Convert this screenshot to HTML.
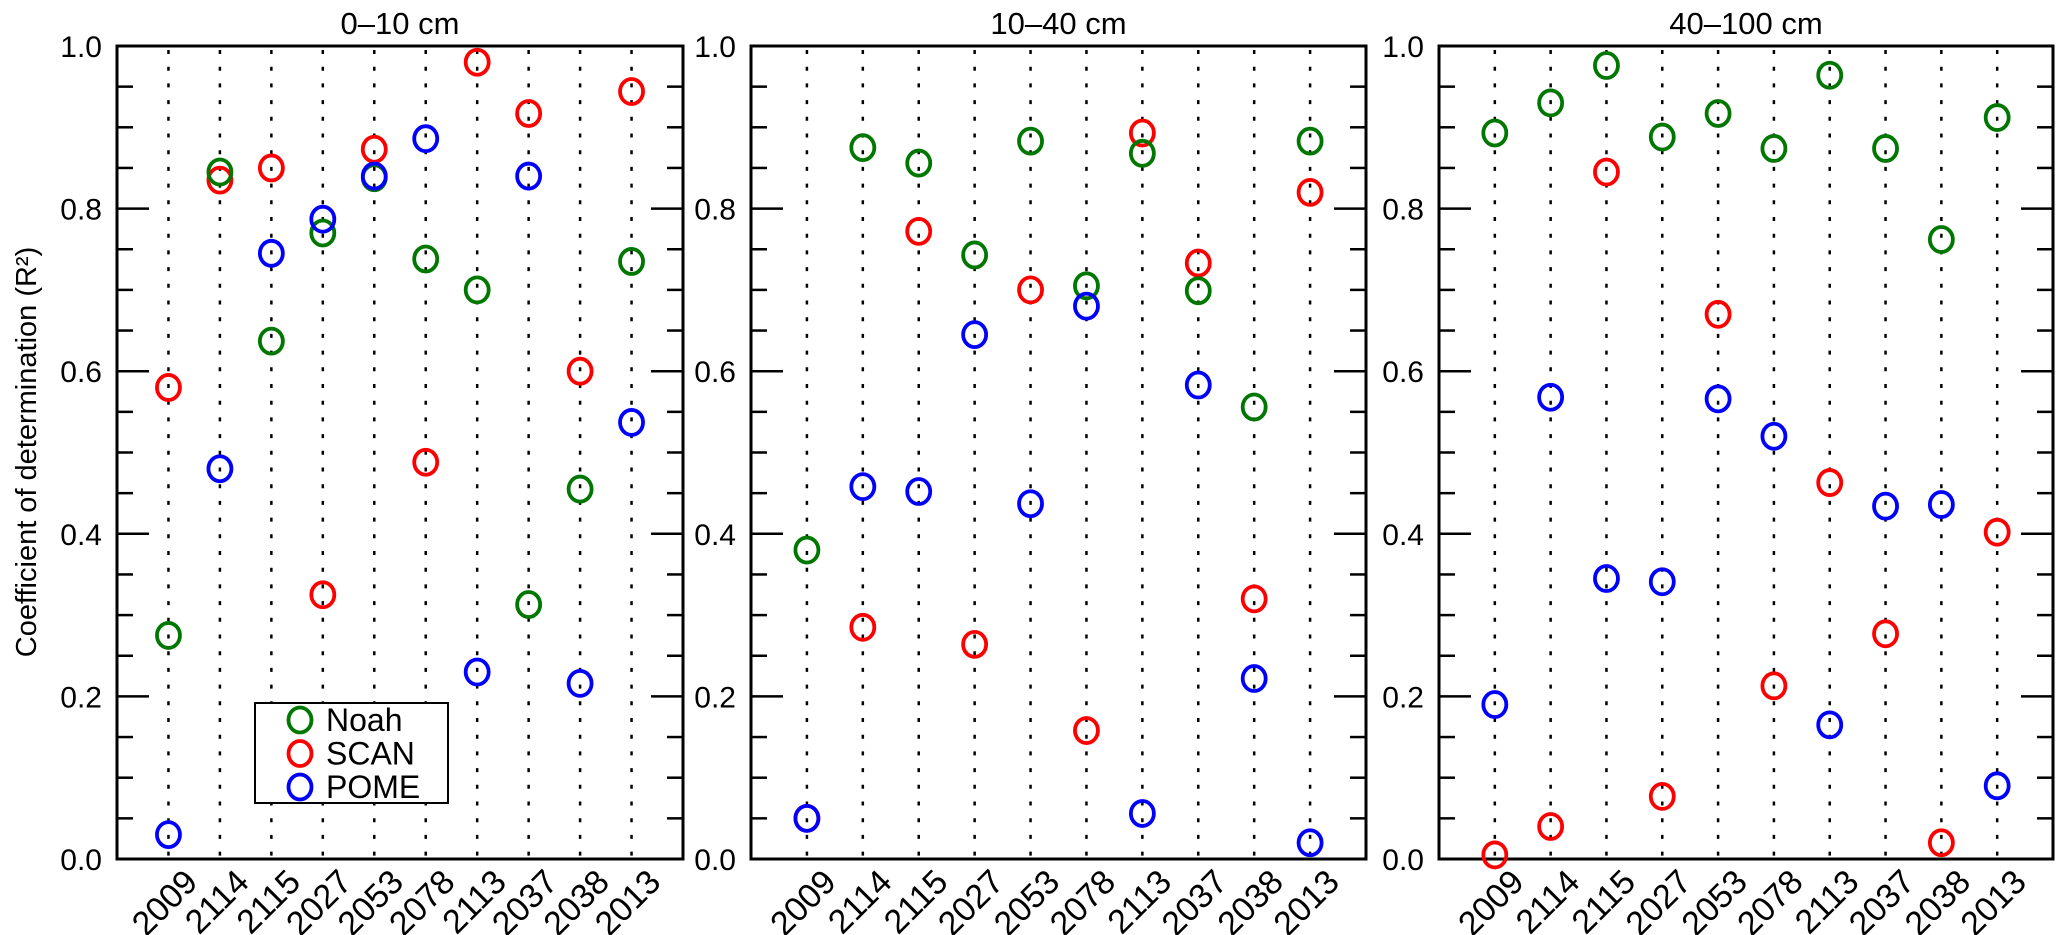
<!DOCTYPE html>
<html><head><meta charset="utf-8"><style>
html,body{margin:0;padding:0;background:#fff;}
svg{display:block;font-family:"Liberation Sans",Arial,sans-serif;}
</style></head><body>
<svg id="chart" width="2067" height="935" viewBox="0 0 2067 935" xmlns="http://www.w3.org/2000/svg">
<rect width="2067" height="935" fill="#fff"/>
<text x="0" y="0" transform="translate(36,452) rotate(-90)" text-anchor="middle" font-size="29">Coefficient of determination (R²)</text>
</svg>
<script>
const categories = ["2009","2114","2115","2027","2053","2078","2113","2037","2038","2013"];
const panelTitles = ["0\u201310 cm","10\u201340 cm","40\u2013100 cm"];
const yTickLabels = ["0.0","0.2","0.4","0.6","0.8","1.0"];
const seriesNames = ["Noah","SCAN","POME"];
const noah0 = [0.275,0.845,0.637,0.77,0.838,0.738,0.70,0.313,0.455,0.735];
const scan0 = [0.58,0.835,0.85,0.325,0.873,0.488,0.98,0.917,0.60,0.944];
const pome0 = [0.03,0.48,0.745,0.787,0.84,0.886,0.23,0.84,0.216,0.537];
const noah1 = [0.38,0.875,0.856,0.743,0.883,0.705,0.868,0.699,0.556,0.883];
const scan1 = [0.05,0.285,0.772,0.264,0.70,0.158,0.893,0.733,0.32,0.82];
const pome1 = [0.05,0.458,0.452,0.645,0.437,0.68,0.056,0.583,0.222,0.02];
const noah2 = [0.893,0.93,0.976,0.888,0.917,0.874,0.964,0.874,0.762,0.912];
const scan2 = [0.005,0.04,0.845,0.077,0.67,0.213,0.463,0.277,0.02,0.402];
const pome2 = [0.19,0.568,0.345,0.341,0.566,0.52,0.165,0.434,0.436,0.09];

const svg = document.getElementById('chart');
const NS = 'http://www.w3.org/2000/svg';
function mk(tag, attrs, parent){const e=document.createElementNS(NS,tag);for(const k in attrs)e.setAttribute(k,attrs[k]);(parent||svg).appendChild(e);return e;}
const panels = [{l:117,r:683},{l:751,r:1366},{l:1439,r:2053}];
const TOP=46, BOT=859;
const data = [[noah0,scan0,pome0],[noah1,scan1,pome1],[noah2,scan2,pome2]];
const colors = {Noah:"#007700",SCAN:"#ff0000",POME:"#0000ff"};
function yScale(v){return BOT-(BOT-TOP)*v;}

panels.forEach((p,pi)=>{
  const g = mk('g',{});
  
  
  const step=(p.r-p.l)/(categories.length+1);
  const xScale=i=>p.l+step*(i+1);
  const t = mk('text',{x:(p.l+p.r)/2,y:34,'text-anchor':'middle','font-size':31},g);
  t.textContent = panelTitles[pi];
  
  
  categories.forEach((c,i)=>{
    const x=xScale(i);
    const ln = mk('line',{x1:x,y1:TOP+4,x2:x,y2:BOT,stroke:'#000','stroke-width':2.5,'stroke-dasharray':'4 12.7'},g);
    
    
    const lb = mk('text',{x:0,y:0,'text-anchor':'end','font-size':34,transform:`translate(${x+14},${BOT+8}) rotate(-45)`,'dominant-baseline':'hanging'},g);
    lb.textContent=c;
    
    
  });
  for(let k=0;k<=20;k++){
    const v=k/20, y=yScale(v), L=(k%4===0)?32:16;
    mk('line',{x1:p.l,y1:y,x2:p.l+L,y2:y,stroke:'#000','stroke-width':2.5},g);
    mk('line',{x1:p.r,y1:y,x2:p.r-L,y2:y,stroke:'#000','stroke-width':2.5},g);
  }
  yTickLabels.forEach((s,k)=>{
    const tl = mk('text',{x:p.l-15,y:yScale(k*0.2)+11,'text-anchor':'end','font-size':30},g);
    tl.textContent=s;
    
    
  });
  const fr = mk('rect',{x:p.l,y:TOP,width:p.r-p.l,height:BOT-TOP,fill:'none',stroke:'#000','stroke-width':3},g);
  
  
  [1,0,2].forEach(si=>{
    const name=seriesNames[si];
    data[pi][si].forEach((v,i)=>{
      const c = mk('ellipse',{cx:xScale(i),cy:yScale(v),rx:11.5,ry:12.5,fill:'none',stroke:colors[name],'stroke-width':3.8},g);
      
      
    });
  });
});
// legend
const lg = mk('g',{});


mk('rect',{x:255,y:703,width:193,height:100,fill:'#fff',stroke:'#000','stroke-width':2},lg);
seriesNames.forEach((n,i)=>{
  const y=720+i*33.5;
  const m = mk('ellipse',{cx:300,cy:y,rx:11.5,ry:12.5,fill:'none',stroke:colors[n],'stroke-width':3.8},lg);
  
  
  const t = mk('text',{x:326,y:y+11,'font-size':32},lg);
  t.textContent=n;
  
  
});
</script>
</body></html>
